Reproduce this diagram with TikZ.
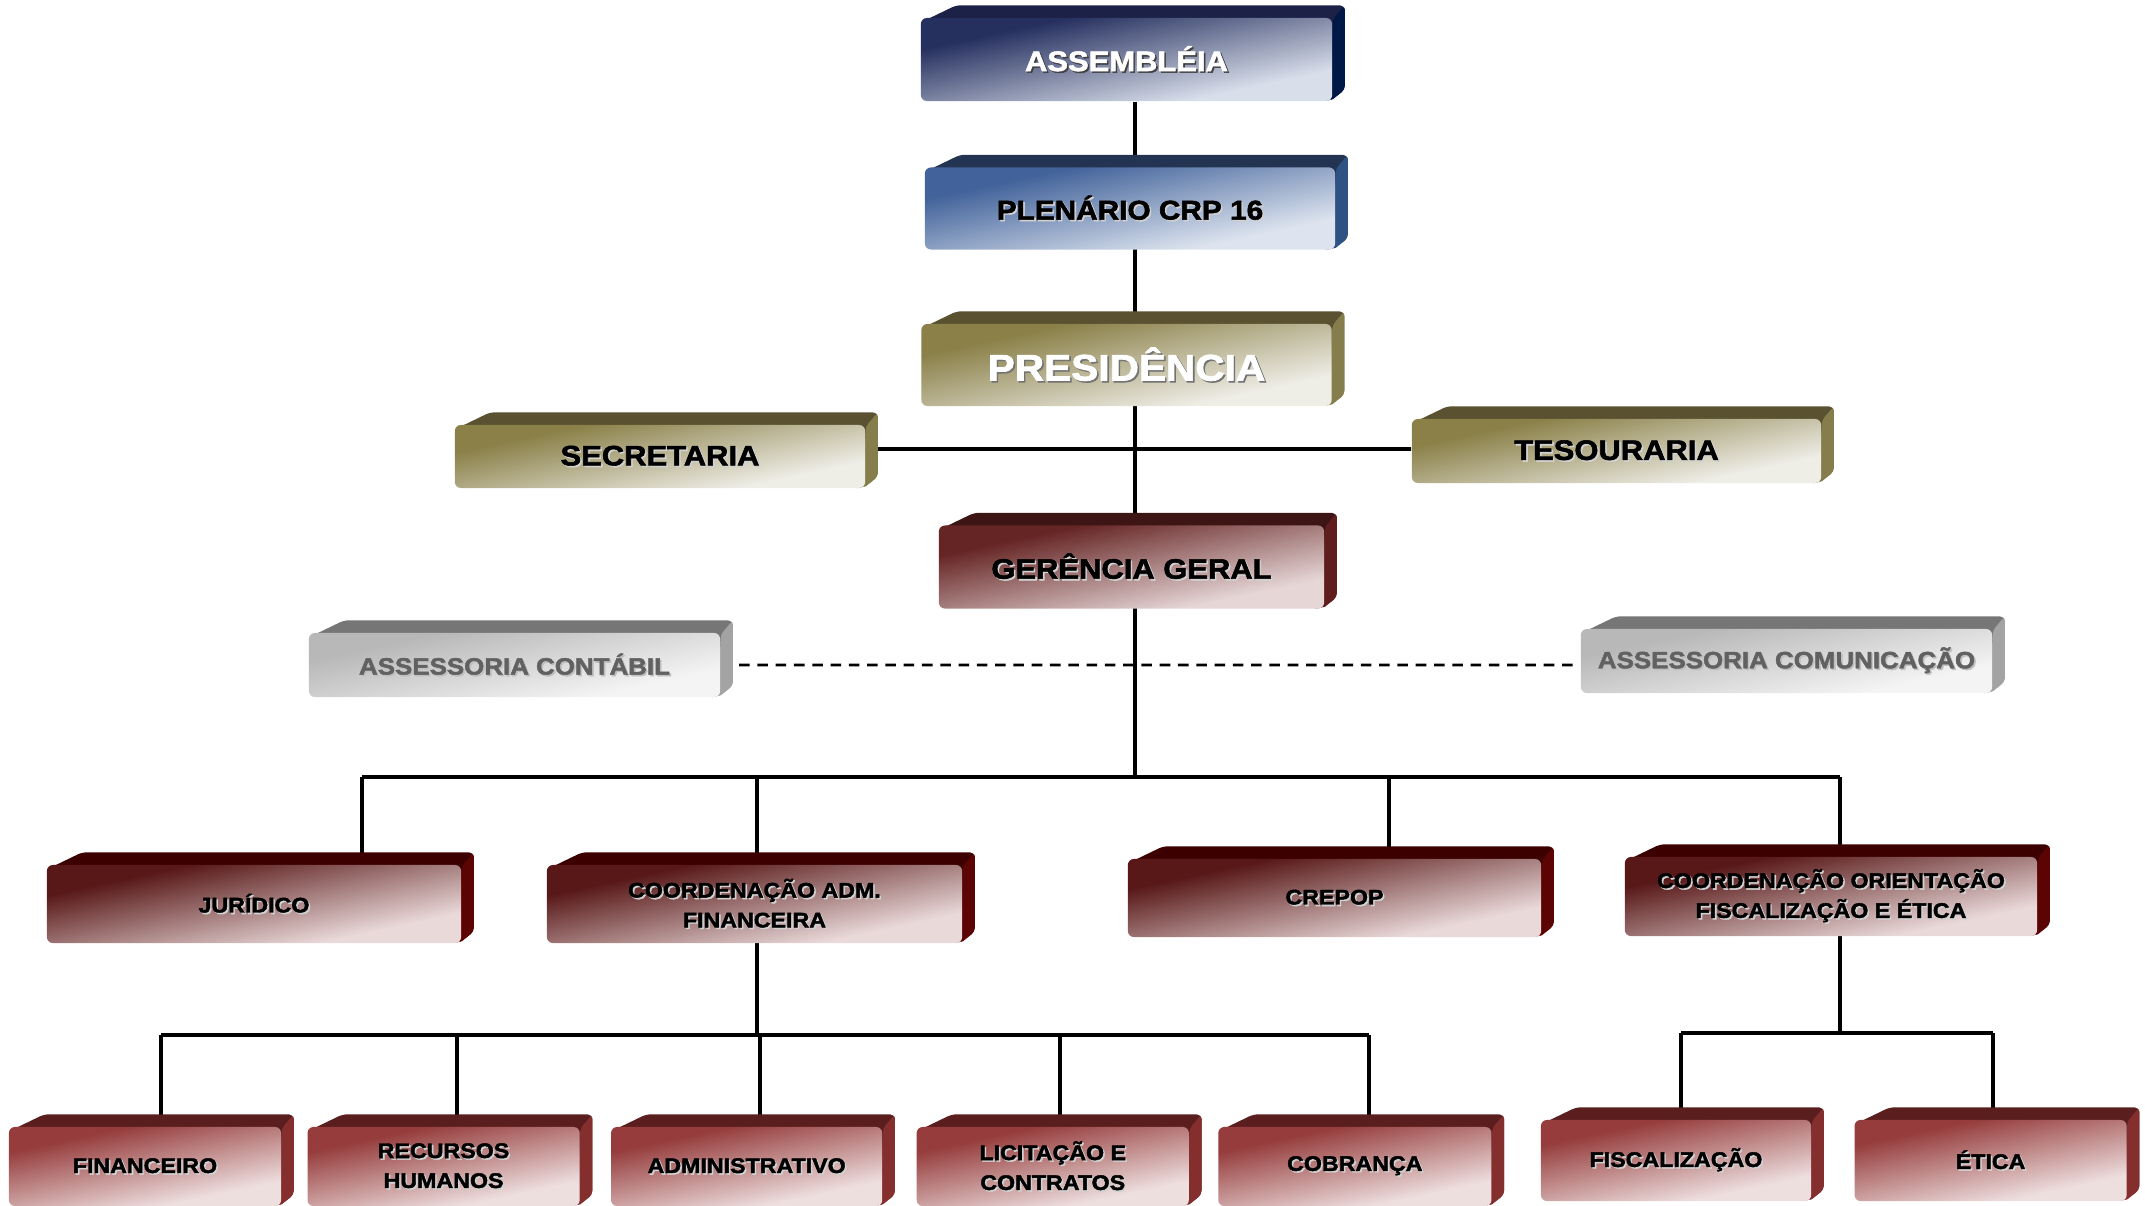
\documentclass[tikz,border=0pt]{standalone}
\usepackage{fontspec}
\newfontfamily\boxfont{Liberation Sans Bold}[FakeStretch=1.1,FakeBold=2]
\usetikzlibrary{positioning, calc}
\pgfdeclarelayer{lines}
\pgfdeclarelayer{depth}
\pgfsetlayers{lines,depth,main}

\definecolor{navyL}{HTML}{26305F}\definecolor{navyR}{HTML}{D8DEEA}
\definecolor{navyT}{HTML}{1B2147}\definecolor{navyS}{HTML}{001845}
\definecolor{blueL}{HTML}{41629A}\definecolor{blueR}{HTML}{DDE4EF}
\definecolor{blueT}{HTML}{233352}\definecolor{blueS}{HTML}{2E5283}
\definecolor{oliveL}{HTML}{8A8048}\definecolor{oliveR}{HTML}{EEEDE6}
\definecolor{oliveT}{HTML}{595130}\definecolor{oliveS}{HTML}{857D4B}
\definecolor{wineL}{HTML}{662525}\definecolor{wineR}{HTML}{E6D6D6}
\definecolor{wineT}{HTML}{3E1515}\definecolor{wineS}{HTML}{5F1D1D}
\definecolor{grayL}{HTML}{B8B8B8}\definecolor{grayR}{HTML}{F4F4F4}
\definecolor{grayT}{HTML}{767676}\definecolor{grayS}{HTML}{A3A3A3}
\definecolor{marL}{HTML}{581818}\definecolor{marR}{HTML}{EAD9D9}
\definecolor{marT}{HTML}{3D0000}\definecolor{marS}{HTML}{5C0303}
\definecolor{redL}{HTML}{963C3C}\definecolor{redR}{HTML}{EEDFDF}
\definecolor{redT}{HTML}{5A1E1E}\definecolor{redS}{HTML}{842E2E}

% diagonal face shading
\colorlet{boxdark}{black}\colorlet{boxlight}{white}
\pgfdeclareverticalshading[boxdark,boxlight]{boxshade}{100bp}{color(0bp)=(boxlight); color(31bp)=(boxlight); color(69bp)=(boxdark); color(100bp)=(boxdark)}

% text with a small drop shadow
\newcommand\shtxt[3]{\leavevmode\rlap{\kern0.45pt\raisebox{-0.45pt}{\color{#2}#3}}{\color{#1}#3}}
\newcommand\wtxt[1]{\shtxt{white}{black!75}{#1}}
\newcommand\btxt[1]{\shtxt{black}{black!18}{#1}}
\newcommand\gtxt[1]{\shtxt{black!62}{white!75!black}{#1}}

\tikzset{
  unit/.style={shade, shading=boxshade, shading angle=12, rounded corners=0.06cm, inner sep=0pt, align=center},
  faces/.style 2 args={/utils/exec={\colorlet{boxdark}{#1}\colorlet{boxlight}{#2}}},
  big/.style={font=\boxfont\fontsize{8}{10}\selectfont},
  small/.style={font=\boxfont\fontsize{6}{8.5}\selectfont},
  navybox/.style={big, faces={navyL}{navyR}, unit},
  bluebox/.style={big, faces={blueL}{blueR}, unit},
  olivebox/.style={big, faces={oliveL}{oliveR}, unit},
  winebox/.style={big, faces={wineL}{wineR}, unit},
  graybox/.style={font=\boxfont\fontsize{6.7}{8}\selectfont, faces={grayL}{grayR}, unit},
  marbox/.style={small, faces={marL}{marR}, unit},
  redbox/.style={small, faces={redL}{redR}, unit},
  conn/.style={line width=1.1pt, black},
}

\begin{document}
\begin{tikzpicture}[x=0.01cm, y=-0.01cm]
  \useasboundingbox (0,0) rectangle (2145,1206);

  % central column
  \node[navybox, minimum width=4.11cm, minimum height=0.83cm] (asm) at (1126.5,59.5) {\wtxt{ASSEMBLÉIA}};
  \node[bluebox, minimum width=4.1cm, minimum height=0.82cm, font=\boxfont\fontsize{7.7}{9}\selectfont, below=0.65cm of asm, xshift=0.035cm] (plen) {\btxt{PLENÁRIO CRP 16}};
  \node[olivebox, minimum width=4.1cm, minimum height=0.82cm, font=\boxfont\fontsize{10.5}{12}\selectfont, below=0.73cm of plen, xshift=-0.035cm] (pres) {\shtxt{white}{black!55}{PRESIDÊNCIA}};
  \node[olivebox, minimum width=4.1cm, minimum height=0.63cm] (sec) at (660,456.5) {\btxt{SECRETARIA}};
  \node[olivebox, minimum width=4.09cm, minimum height=0.64cm] (tes) at (1616.5,451) {\btxt{TESOURARIA}};
  \node[winebox, minimum width=3.85cm, minimum height=0.83cm, below=1.18cm of pres, xshift=0.05cm] (ger) {\btxt{GERÊNCIA GERAL}};
  \node[graybox, minimum width=4.11cm, minimum height=0.64cm] (acont) at (514.5,665) {\gtxt{ASSESSORIA CONTÁBIL}};
  \node[graybox, minimum width=4.11cm, minimum height=0.64cm] (acom) at (1786.5,661) {\gtxt{ASSESSORIA COMUNICAÇÃO}};

  % coordinations
  \node[marbox, minimum width=4.14cm, minimum height=0.78cm] (jur) at (254,904) {\btxt{JURÍDICO}};
  \node[marbox, minimum width=4.15cm, minimum height=0.78cm] (cadm) at (754.5,904) {\btxt{COORDENAÇÃO ADM.}\\\btxt{FINANCEIRA}};
  \node[marbox, minimum width=4.13cm, minimum height=0.78cm] (crepop) at (1334.5,898) {\btxt{CREPOP}};
  \node[marbox, minimum width=4.12cm, minimum height=0.79cm] (cofe) at (1831,896.5) {\btxt{COORDENAÇÃO ORIENTAÇÃO}\\\btxt{FISCALIZAÇÃO E ÉTICA}};

  % sectors
  \node[redbox, minimum width=2.72cm, minimum height=0.79cm] (fin) at (145,1166.5) {\btxt{FINANCEIRO}};
  \node[redbox, minimum width=2.72cm, minimum height=0.79cm, right=0.25cm of fin] (rh) {\btxt{RECURSOS}\\\btxt{HUMANOS}};
  \node[redbox, minimum width=2.71cm, minimum height=0.79cm, right=0.30cm of rh] (adm) {\btxt{ADMINISTRATIVO}};
  \node[redbox, minimum width=2.72cm, minimum height=0.79cm, right=0.33cm of adm] (lic) {\btxt{LICITAÇÃO E}\\\btxt{CONTRATOS}};
  \node[redbox, minimum width=2.73cm, minimum height=0.79cm, right=0.28cm of lic] (cob) {\btxt{COBRANÇA}};
  \node[redbox, minimum width=2.7cm, minimum height=0.81cm] (fisc) at (1676,1160.5) {\btxt{FISCALIZAÇÃO}};
  \node[redbox, minimum width=2.72cm, minimum height=0.81cm, right=0.42cm of fisc] (eti) {\btxt{ÉTICA}};

  % 3d depth of the boxes
  \begin{pgfonlayer}{depth}
    \foreach \n/\tc/\sc in {asm/navyT/navyS, plen/blueT/blueS, pres/oliveT/oliveS, sec/oliveT/oliveS, tes/oliveT/oliveS, ger/wineT/wineS, acont/grayT/grayS, acom/grayT/grayS, jur/marT/marS, cadm/marT/marS, crepop/marT/marS, cofe/marT/marS, fin/redT/redS, rh/redT/redS, adm/redT/redS, lic/redT/redS, cob/redT/redS, fisc/redT/redS, eti/redT/redS}{
      \fill[\tc, rounded corners=0.05cm] ([xshift=0.05cm,yshift=-0.03cm]\n.north west) -- ([xshift=0.36cm,yshift=0.12cm]\n.north west) -- ([xshift=0.12cm,yshift=0.12cm]\n.north east) -- ([xshift=0.12cm,yshift=0.12cm]\n.south east) -- ([xshift=-0.05cm]\n.south east) -- cycle;
      \fill[\sc, rounded corners=0.04cm] ([yshift=-0.02cm]\n.north east) -- ([xshift=0.12cm,yshift=0.12cm]\n.north east) -- ([xshift=0.12cm,yshift=0.12cm]\n.south east) -- ([xshift=-0.03cm]\n.south east) -- cycle;
    }
  \end{pgfonlayer}

  % connectors
  \begin{pgfonlayer}{lines}
    \coordinate (spine) at ([xshift=0.085cm]asm.south);
    \coordinate (bus2) at (0,777);
    \coordinate (bus3) at (0,1035);
    \coordinate (bus4) at (0,1033);
    \foreach \n/\d in {jur/108, cadm/2.5, crepop/54.5, cofe/9, fin/16, rh/13, adm/13.5, lic/7, cob/14.5, fisc/5, eti/2}
      \coordinate (\n-t) at ([xshift=\d*0.01cm]\n.north);
    \draw[conn] (spine) -- (spine |- bus2);
    \draw[conn] ([yshift=0.075cm]sec.east) -- ([yshift=0.02cm]tes.west);
    \draw[line width=0.8pt, dash pattern=on 3pt off 2.2pt] (acont.east) -- ([yshift=-0.04cm]acom.west);
    \draw[conn] (jur-t |- bus2) -- (cofe-t |- bus2);
    \foreach \n in {jur, cadm, crepop, cofe}
      \draw[conn] (\n-t) -- (\n-t |- bus2);
    \draw[conn] (cadm-t) -- (cadm-t |- bus3);
    \draw[conn] (fin-t |- bus3) -- (cob-t |- bus3);
    \foreach \n in {fin, rh, adm, lic, cob}
      \draw[conn] (\n-t) -- (\n-t |- bus3);
    \draw[conn] (cofe-t) -- (cofe-t |- bus4);
    \draw[conn] (fisc-t |- bus4) -- (eti-t |- bus4);
    \foreach \n in {fisc, eti}
      \draw[conn] (\n-t) -- (\n-t |- bus4);
  \end{pgfonlayer}
\end{tikzpicture}
\end{document}
